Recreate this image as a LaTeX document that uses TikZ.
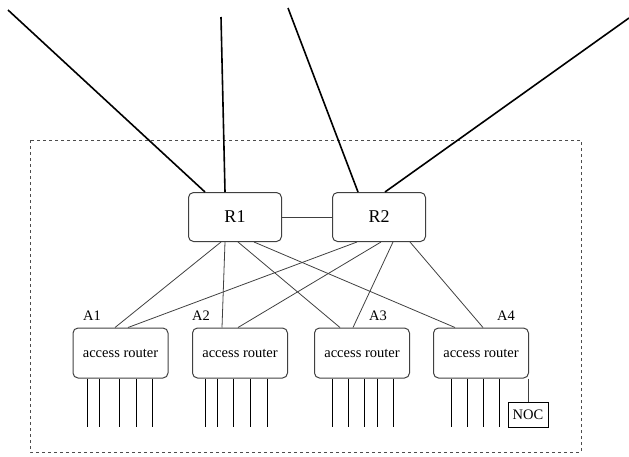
\documentclass[tikz,border=0pt]{standalone}
\usepackage{fontspec}
\setmainfont{Liberation Serif}
\usepackage{tikz}
\usetikzlibrary{positioning, calc}

\begin{document}
\begin{tikzpicture}[x=1pt, y=-1pt,
        core/.style={draw=black!75, line width=1pt, rounded corners=5pt, minimum width=93pt, minimum height=49pt, font=\fontsize{18}{18}\selectfont},
        access/.style={draw=black!75, line width=1pt, rounded corners=5pt, minimum width=95pt, minimum height=50pt, font=\fontsize{14.5}{15}\selectfont},
        tag/.style={font=\fontsize{14.5}{15}\selectfont},
        link/.style={draw=black!75, line width=0.8pt},
        uplink/.style={draw=black, line width=1.6pt},
        drop/.style={draw=black, line width=0.6pt}]
        \useasboundingbox (0,0) rectangle (629,456);

        % Site boundary
        \draw[dashed, black!70, line width=0.6pt] (30,140) rectangle (581,452);

        % Core routers
        \node[core] (R1) at (235,217) {R1};
        \node[core] (R2) at (379,217) {R2};
        \draw[link] (R1.east) -- (R2.west);

        % Uplinks
        \coordinate (u1) at (8,10);
        \coordinate (u2) at (221,17);
        \coordinate (u3) at (288,8);
        \coordinate (u4) at (629,18);
        \draw[uplink] ([xshift=-30pt]R1.north) -- (u1);
        \draw[uplink] ([xshift=-10pt]R1.north) -- (u2);
        \draw[uplink] ([xshift=-21pt]R2.north) -- (u3);
        \draw[uplink] ([xshift=6pt]R2.north) -- (u4);

        % Access routers
        \node[access] (A1) at (120.5,353) {access router};
        \node[access] (A2) at (240,353) {access router};
        \node[access] (A3) at (362,353) {access router};
        \node[access] (A4) at (481,353) {access router};
        \node[tag] (l1) at (92,316) {A1};
        \node[tag] (l2) at (201,316) {A2};
        \node[tag] (l3) at (378,316) {A3};
        \node[tag] (l4) at (506,316) {A4};

        % Core to access
        \draw[link] ([xshift=-14pt]R1.south) -- ([xshift=-5.5pt]A1.north);
        \draw[link] ([xshift=-10pt]R1.south) -- ([xshift=-18pt]A2.north);
        \draw[link] ([xshift=3pt]R1.south) -- ([xshift=-22pt]A3.north);
        \draw[link] ([xshift=19pt]R1.south) -- ([xshift=-26pt]A4.north);
        \draw[link] ([xshift=-22pt]R2.south) -- ([xshift=7.5pt]A1.north);
        \draw[link] ([xshift=2pt]R2.south) -- ([xshift=-2pt]A2.north);
        \draw[link] ([xshift=14pt]R2.south) -- ([xshift=-9pt]A3.north);
        \draw[link] ([xshift=31pt]R2.south) -- ([xshift=2pt]A4.north);

        % Hosts
        \foreach \x in {87,99,119,136,152}{
            \coordinate (h\x) at (\x,427);
            \draw[drop] (A1.south -| h\x) -- (h\x);
        }
        \foreach \x in {205,217,233,250,267}{
            \coordinate (h\x) at (\x,427);
            \draw[drop] (A2.south -| h\x) -- (h\x);
        }
        \foreach \x in {332,348,364,377,393}{
            \coordinate (h\x) at (\x,427);
            \draw[drop] (A3.south -| h\x) -- (h\x);
        }
        \foreach \x in {451,467,483,499}{
            \coordinate (h\x) at (\x,427);
            \draw[drop] (A4.south -| h\x) -- (h\x);
        }

        % NOC
        \node[draw, line width=0.6pt, minimum width=40pt, minimum height=25pt, inner sep=0pt, tag] (NOC) at (528,414.5) {NOC};
        \draw[link] (A4.south -| NOC.north) -- (NOC.north);
\end{tikzpicture}
\end{document}
